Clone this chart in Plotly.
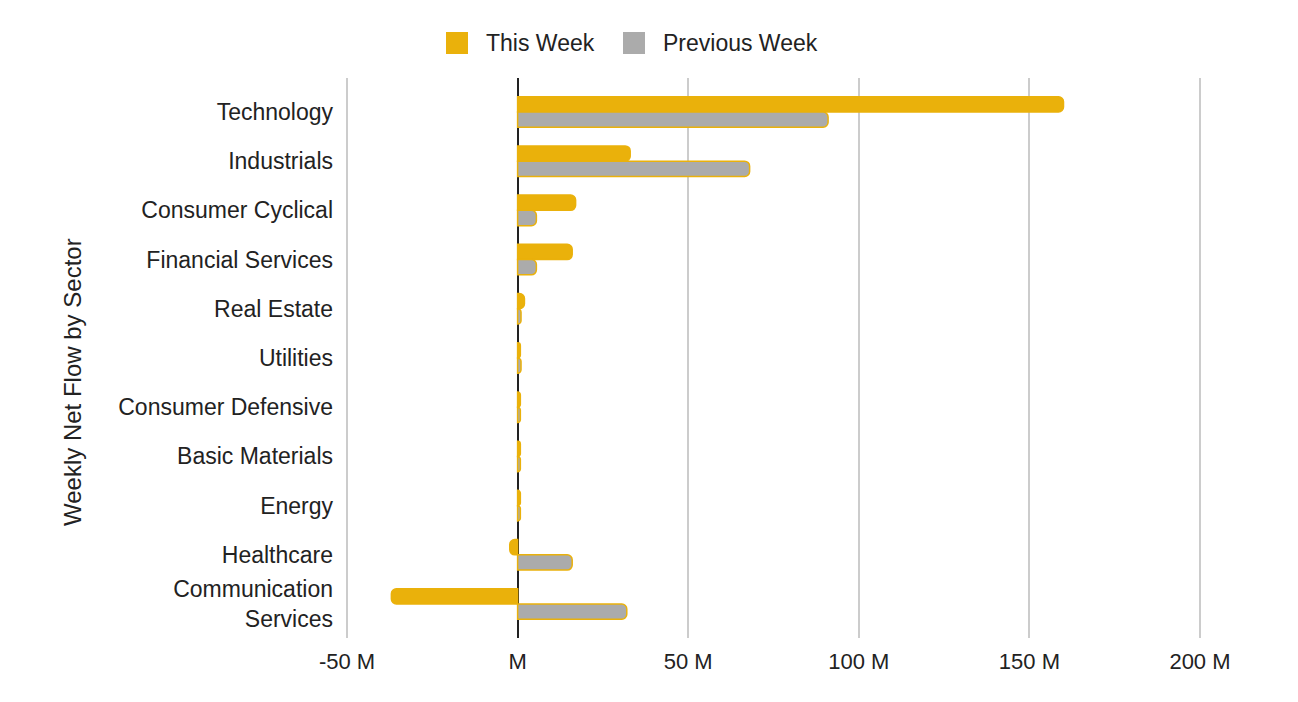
import plotly.graph_objects as go

sectors = ["Technology", "Industrials", "Consumer Cyclical", "Financial Services",
           "Real Estate", "Utilities", "Consumer Defensive", "Basic Materials",
           "Energy", "Healthcare", "Communication<br>Services"]
this_week = [160, 33, 17, 16, 2, 0.8, 0.8, 0.8, 0.8, -2.3, -37]
previous_week = [91, 68, 5.5, 5.5, 1, 1, 0.8, 0.8, 0.8, 16, 32]
tick_vals = [-50, 0, 50, 100, 150, 200]
tick_text = ["-50 M", "M", "50 M", "100 M", "150 M", "200 M"]
series_names = ["This Week", "Previous Week"]

YELLOW = "#EAB10B"
GRAY = "#ABABAB"
TEXT = "#222222"
FONT = "Liberation Sans, Arial, sans-serif"

W, H = 1298, 702
ML, MR, MT, MB = 346, 97, 78, 64

fig = go.Figure()
fig.add_trace(go.Bar(
    y=sectors, x=this_week, orientation="h", name=series_names[0],
    marker=dict(color=YELLOW, line=dict(color=YELLOW, width=1.5), cornerradius=5),
))
fig.add_trace(go.Bar(
    y=sectors, x=previous_week, orientation="h", name=series_names[1],
    marker=dict(color=GRAY, line=dict(color=YELLOW, width=1.5), cornerradius=5),
))

fig.update_layout(
    width=W, height=H,
    margin=dict(l=ML, r=MR, t=MT, b=MB),
    paper_bgcolor="white", plot_bgcolor="white",
    font=dict(family=FONT, size=22, color=TEXT),
    barmode="group", bargap=0.38, bargroupgap=0,
    showlegend=False,
)

# manual legend (pixel positions converted to container fractions)
def cx(px):
    return px / W

def cy(py):
    return 1 - py / H

legend_items = [(series_names[0], YELLOW, 446), (series_names[1], GRAY, 623)]
for name, color, x0 in legend_items:
    fig.add_shape(type="rect", xref="paper", yref="paper",
                  x0=(x0 - ML) / (W - ML - MR), x1=(x0 + 22 - ML) / (W - ML - MR),
                  y0=(H - MB - 54) / (H - MT - MB), y1=(H - MB - 32) / (H - MT - MB),
                  fillcolor=color, line=dict(color=color, width=0))
    fig.add_annotation(text=name, xref="paper", yref="paper",
                       x=(x0 + 38 - ML) / (W - ML - MR), y=(H - MB - 43) / (H - MT - MB),
                       xanchor="left", yanchor="middle", showarrow=False,
                       font=dict(size=23, color=TEXT))

# y-axis title
fig.add_annotation(text="Weekly Net Flow by Sector", xref="paper", yref="paper",
                   x=(72 - ML) / (W - ML - MR), y=(H - MB - 382) / (H - MT - MB),
                   xanchor="center", yanchor="middle", textangle=-90, showarrow=False,
                   font=dict(size=24, color=TEXT))

fig.update_xaxes(
    range=[-50.3, 200.3], tickvals=tick_vals, ticktext=tick_text,
    showgrid=True, gridcolor="#CCCCCC", gridwidth=1.5,
    zeroline=True, zerolinecolor="#222222", zerolinewidth=1.5,
    showline=False, tickfont=dict(size=22), ticklabelstandoff=8,
)
fig.update_yaxes(
    type="category", categoryorder="array", categoryarray=sectors,
    range=[10.69, -0.69], showgrid=False, zeroline=False, showline=False,
    tickfont=dict(size=23), ticklabelstandoff=12,
)

fig.write_html("out.html")
